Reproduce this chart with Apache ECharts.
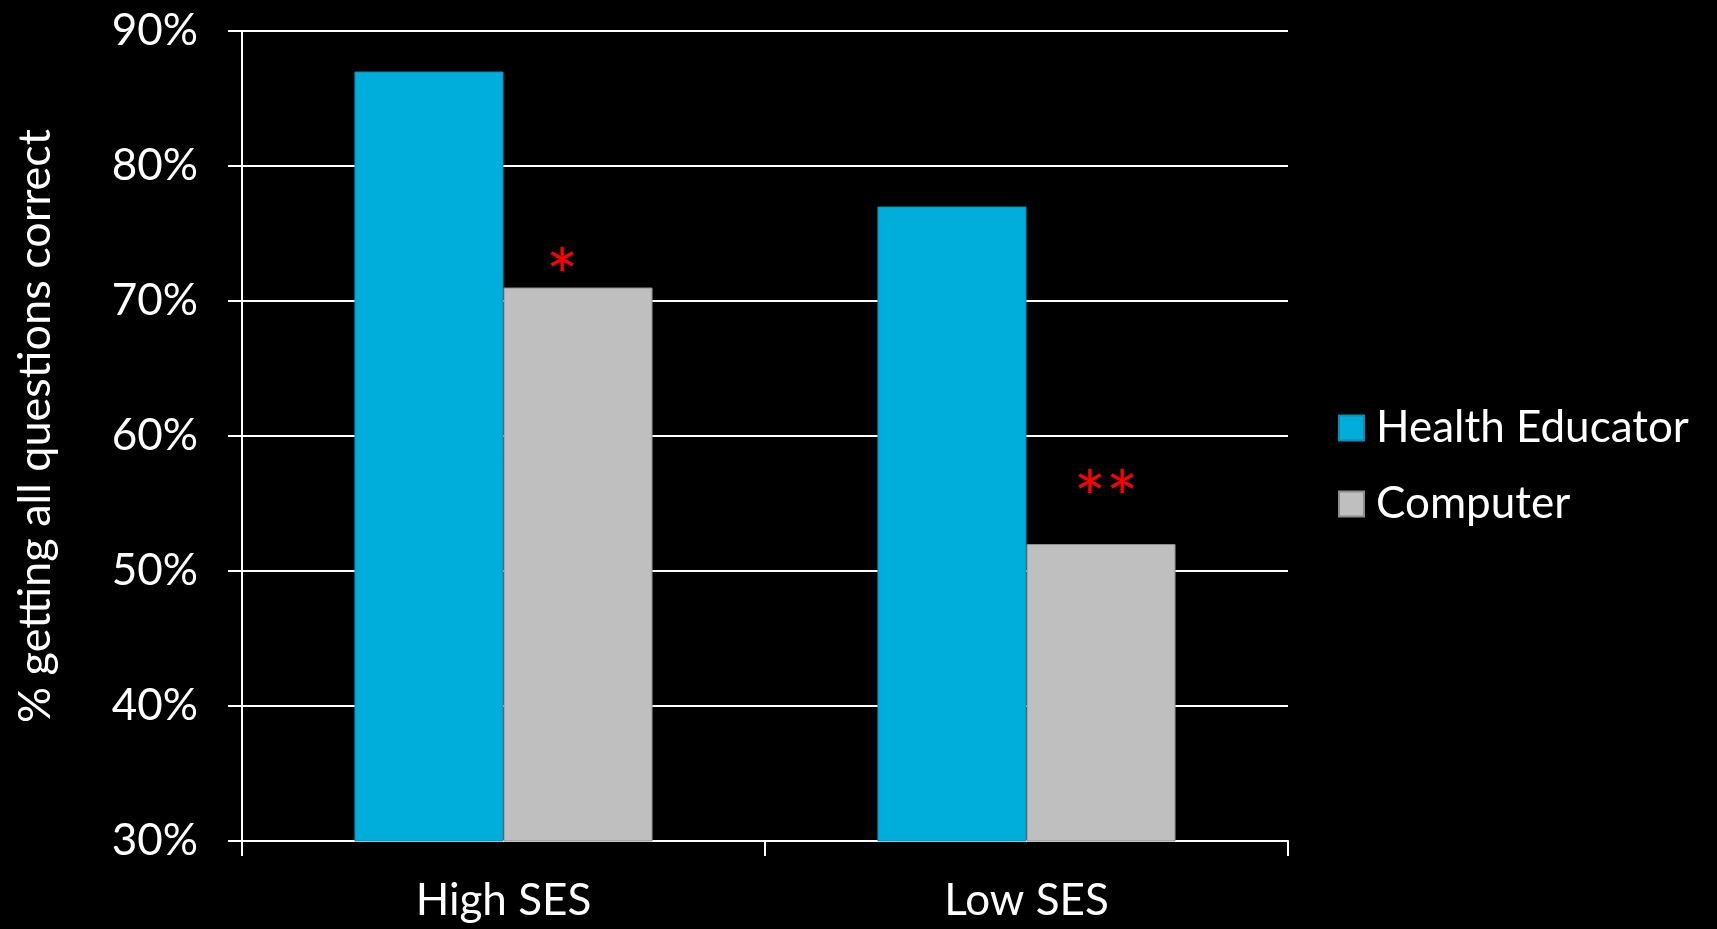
<!DOCTYPE html>
<html>
<head>
<meta charset="utf-8">
<script src="https://cdn.jsdelivr.net/npm/echarts@6/dist/echarts.min.js"></script>
<style>
html,body{margin:0;padding:0;background:#000;}
#c{width:1717px;height:929px;}
</style>
</head>
<body>
<div id="c"></div>
<script>
const categories = ['High SES', 'Low SES'];
const seriesNames = ['Health Educator', 'Computer'];
const healthEducator = [87, 77];
const computer = [71, 52];
const computerMarks = ['*', '**'];
const yTicks = { min: 30, max: 90, interval: 10 };

const FONT = 'Lato, "Open Sans", sans-serif';
// per-mark label offsets (style only)
const markOffsets = [[-16, 0], [5, -35]];

const chart = echarts.init(document.getElementById('c'), null, { renderer: 'canvas' });
chart.setOption({
  backgroundColor: '#000',
  animation: false,
  grid: { left: 242, right: 429, top: 31, bottom: 88 },
  legend: {
    orient: 'vertical',
    left: 1333,
    top: 401,
    itemWidth: 25,
    itemHeight: 25,
    itemGap: 32,
    icon: 'rect',
    textStyle: { color: '#fff', fontSize: 44, fontFamily: FONT, padding: [0, 0, 0, 7] },
    data: seriesNames
  },
  xAxis: {
    type: 'category',
    data: categories,
    axisLine: { lineStyle: { color: '#fff', width: 2 } },
    axisTick: { show: true, length: 15, lineStyle: { color: '#fff', width: 2 } },
    axisLabel: { color: '#fff', fontSize: 44, fontFamily: FONT, margin: 38 }
  },
  yAxis: {
    type: 'value',
    min: yTicks.min, max: yTicks.max, interval: yTicks.interval,
    name: '% getting all questions correct',
    nameLocation: 'middle',
    nameGap: 184,
    nameRotate: 90,
    nameTextStyle: { color: '#fff', fontSize: 45, fontFamily: FONT, padding: [0, 0, 0, 20] },
    axisLine: { show: true, lineStyle: { color: '#fff', width: 2 } },
    axisTick: { show: true, length: 14, lineStyle: { color: '#fff', width: 2 } },
    axisLabel: { color: '#fff', fontSize: 44, fontFamily: FONT, margin: 44, formatter: '{value}%' },
    splitLine: { lineStyle: { color: '#fff', width: 2 } }
  },
  series: [
    {
      name: seriesNames[0], type: 'bar', data: healthEducator,
      barGap: '0%', barCategoryGap: '43%',
      itemStyle: { color: '#00AEDB', borderColor: '#0C8CB0', borderWidth: 1 }
    },
    {
      name: seriesNames[1], type: 'bar',
      data: computer.map((v, i) => ({ value: v, label: { offset: markOffsets[i] } })),
      barGap: '0%', barCategoryGap: '43%',
      itemStyle: { color: '#BFBFBF', borderColor: '#8C8C8C', borderWidth: 1 },
      label: {
        show: true, position: 'top', distance: -30,
        color: '#FF0000', fontSize: 76, fontFamily: FONT,
        formatter: p => computerMarks[p.dataIndex]
      }
    }
  ]
});
</script>
</body>
</html>
